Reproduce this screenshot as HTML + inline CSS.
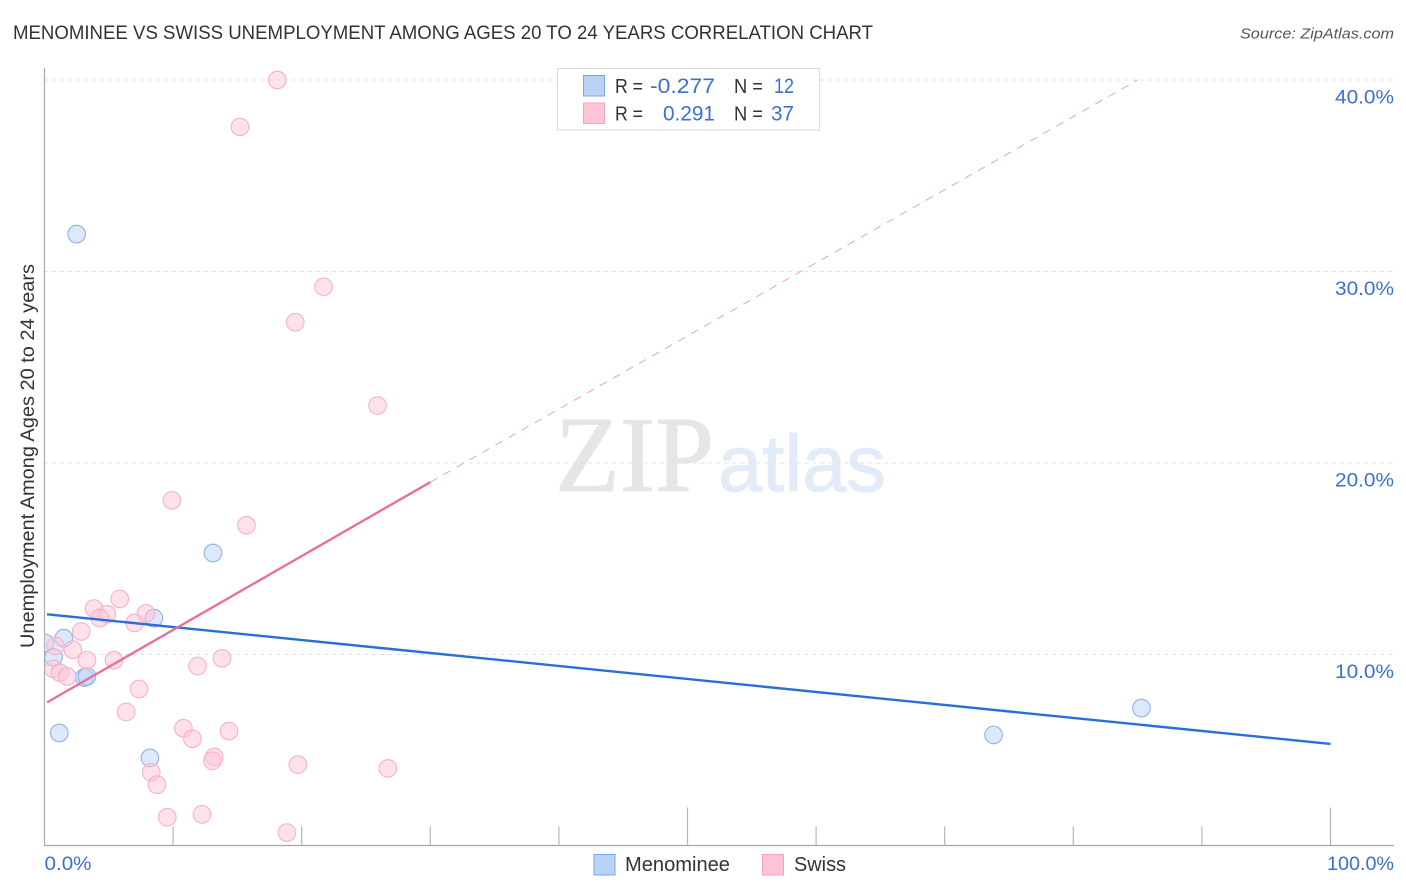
<!DOCTYPE html>
<html lang="en">
<head>
<meta charset="utf-8">
<title>Menominee vs Swiss Unemployment Correlation Chart</title>
<style>
html,body{margin:0;padding:0;background:#fff;}
svg{display:block;}
text{font-family:"Liberation Sans",sans-serif;}
</style>
</head>
<body>
<svg id="chart" width="1406" height="892" viewBox="0 0 1406 892" xmlns="http://www.w3.org/2000/svg">
<defs><clipPath id="plot-clip"><rect x="44.5" y="60" width="1350" height="786"/></clipPath></defs>
<text x="13" y="39" font-size="19.5" fill="#333" textLength="860" lengthAdjust="spacingAndGlyphs">MENOMINEE VS SWISS UNEMPLOYMENT AMONG AGES 20 TO 24 YEARS CORRELATION CHART</text>
<text x="1394" y="38.500" font-size="15" font-style="italic" fill="#555" text-anchor="end" textLength="154" lengthAdjust="spacingAndGlyphs">Source: ZipAtlas.com</text>
<text x="555" y="491" font-size="108" fill="#e6e6e6" stroke="#e6e6e6" stroke-width="1" style="font-family:'Liberation Serif',serif" textLength="159" lengthAdjust="spacingAndGlyphs">ZIP</text>
<text x="718" y="491" font-size="80" fill="#e2ecf9" stroke="#e2ecf9" stroke-width="1" textLength="168" lengthAdjust="spacingAndGlyphs">atlas</text>
<g id="grid"></g>
<g id="axes"></g>
<g id="marks" clip-path="url(#plot-clip)"></g>
<g id="trends"></g>
<g>
<rect x="557.500" y="68.500" width="262" height="61.500" fill="#fff" stroke="#dcdcdc" stroke-width="1"/>
<rect x="583.500" y="75.500" width="21" height="20.500" fill="#b9d3f7" stroke="#7ea6e0"/>
<rect x="583.500" y="103" width="21" height="20.500" fill="#fdc4d6" stroke="#f3a3bb"/>
<g font-size="20">
<text x="615" y="93" fill="#333" textLength="28" lengthAdjust="spacingAndGlyphs">R =</text>
<text x="715" y="93" fill="#3b6fd4" text-anchor="end" textLength="65" lengthAdjust="spacingAndGlyphs" style="font-size:21px">-0.277</text>
<text x="734" y="93" fill="#333" textLength="29" lengthAdjust="spacingAndGlyphs">N =</text>
<text x="794" y="93" fill="#3b6fd4" text-anchor="end" textLength="20" lengthAdjust="spacingAndGlyphs" style="font-size:21px">12</text>
<text x="615" y="120.500" fill="#333" textLength="28" lengthAdjust="spacingAndGlyphs">R =</text>
<text x="715" y="120.500" fill="#3b6fd4" text-anchor="end" textLength="52" lengthAdjust="spacingAndGlyphs" style="font-size:21px">0.291</text>
<text x="734" y="120.500" fill="#333" textLength="29" lengthAdjust="spacingAndGlyphs">N =</text>
<text x="794" y="120.500" fill="#3b6fd4" text-anchor="end" textLength="23" lengthAdjust="spacingAndGlyphs" style="font-size:21px">37</text>
</g>
</g>
<text transform="translate(34,456) rotate(-90)" font-size="19" fill="#333" text-anchor="middle" textLength="384" lengthAdjust="spacingAndGlyphs">Unemployment Among Ages 20 to 24 years</text>
<g>
<rect x="594" y="854.500" width="21" height="20.500" fill="#b9d3f7" stroke="#7ea6e0"/>
<text x="625" y="871" font-size="20" fill="#333" textLength="105" lengthAdjust="spacingAndGlyphs">Menominee</text>
<rect x="762.500" y="854.500" width="21" height="20.500" fill="#fdc4d6" stroke="#f3a3bb"/>
<text x="794" y="871" font-size="20" fill="#333" textLength="52" lengthAdjust="spacingAndGlyphs">Swiss</text>
</g>
</svg>
<script>
var yTickValues = [10, 20, 30, 40];
var yTickLabels = ["10.0%", "20.0%", "30.0%", "40.0%"];
var xTickValues = [10, 20, 30, 40, 50, 60, 70, 80, 90, 100];
var xMajorTicks = [50, 100];
var xEndValues = [0, 100];
var xEndLabels = ["0.0%", "100.0%"];
var menomineeX = [2.5, 0.05, 1.5, 0.7, 3.1, 3.3, 1.15, 8.2, 8.5, 13.1, 73.8, 85.3];
var menomineeY = [31.95, 10.6, 10.85, 9.85, 8.8, 8.85, 5.9, 4.6, 11.9, 15.3, 5.8, 7.2];
var swissX = [18.1, 15.2, 21.7, 19.5, 25.9, 9.9, 15.7, 5.85, 3.85, 4.85, 4.3, 7.9, 7.0, 2.85, 0.85, 2.2, 3.3, 5.4, 13.8, 11.9, 0.7, 1.2, 1.75, 7.35, 6.35, 10.8, 14.35, 11.5, 13.2, 13.05, 19.7, 26.7, 8.3, 8.75, 9.55, 12.25, 18.85];
var swissY = [40.0, 37.55, 29.2, 27.35, 23.0, 18.05, 16.75, 12.9, 12.4, 12.1, 11.9, 12.15, 11.65, 11.2, 10.45, 10.25, 9.7, 9.7, 9.8, 9.4, 9.25, 9.05, 8.85, 8.2, 7.0, 6.15, 6.0, 5.6, 4.65, 4.45, 4.25, 4.05, 3.85, 3.2, 1.5, 1.65, 0.7];
var menomineeTrendX = [0.2, 100];
var menomineeTrendY = [12.1, 5.33];
var swissTrendX = [0.2, 30];
var swissTrendY = [7.5, 19.0];
var swissDashX = [30, 85];
var swissDashY = [19.0, 40.0];

var NS = "http://www.w3.org/2000/svg";
function sx(v) { return 44.5 + v * 12.86; }
function sy(v) { return 846 - v * 19.15; }
function mk(parent, tag, attrs) {
  var el = document.createElementNS(NS, tag);
  for (var k in attrs) { el.setAttribute(k, attrs[k]); }
  parent.appendChild(el);
  return el;
}
var grid = document.getElementById("grid");
var axes = document.getElementById("axes");
var marks = document.getElementById("marks");
var trends = document.getElementById("trends");

yTickValues.forEach(function (v, i) {
  var g = mk(grid, "line", {x1: 44.5, x2: 1394, y1: sy(v), y2: sy(v), stroke: "#e0e0e0", "stroke-width": 1, "stroke-dasharray": "4 4"});
  
  
  var t = mk(axes, "text", {x: 1394, y: sy(v) + 23.5, "font-size": 19.5, fill: "#3b6fd4", "text-anchor": "end", textLength: 59, lengthAdjust: "spacingAndGlyphs"});
  t.textContent = yTickLabels[i];
  
  
});

var yAxis = mk(axes, "line", {x1: 44.5, x2: 44.5, y1: 68, y2: 846, stroke: "#a8a8a8", "stroke-width": 1.2});


var xAxis = mk(axes, "line", {x1: 44, x2: 1394, y1: 845.5, y2: 845.5, stroke: "#a8a8a8", "stroke-width": 1.2});



xTickValues.forEach(function (v) {
  var len = xMajorTicks.indexOf(v) >= 0 ? 38 : 19;
  var t = mk(axes, "line", {x1: sx(v), x2: sx(v), y1: 845.5 - len, y2: 845.5, stroke: "#b5b5b5", "stroke-width": 1.2});
  
  
});

xEndValues.forEach(function (v, i) {
  var t = mk(axes, "text", {x: i === 0 ? sx(v) : 1394, y: 870, "font-size": 19.5, fill: "#3b6fd4", "text-anchor": i === 0 ? "start" : "end", textLength: i === 0 ? 47 : 67, lengthAdjust: "spacingAndGlyphs"});
  t.textContent = xEndLabels[i];
  
  
});

menomineeX.forEach(function (v, i) {
  var c = mk(marks, "circle", {cx: sx(v), cy: sy(menomineeY[i]), r: 8.8, fill: "#b9d3f7", "fill-opacity": 0.5, stroke: "#8fb2e6", "stroke-width": 1.1});
  
  
});
swissX.forEach(function (v, i) {
  var c = mk(marks, "circle", {cx: sx(v), cy: sy(swissY[i]), r: 8.8, fill: "#fdc4d6", "fill-opacity": 0.5, stroke: "#f5b3c7", "stroke-width": 1.1});
  
  
});

var mt = mk(trends, "line", {x1: sx(menomineeTrendX[0]), y1: sy(menomineeTrendY[0]), x2: sx(menomineeTrendX[1]), y2: sy(menomineeTrendY[1]), stroke: "#2a6fd6", "stroke-width": 2.4});


var st = mk(trends, "line", {x1: sx(swissTrendX[0]), y1: sy(swissTrendY[0]), x2: sx(swissTrendX[1]), y2: sy(swissTrendY[1]), stroke: "#e8709c", "stroke-width": 2.4});


var sd = mk(trends, "line", {x1: sx(swissDashX[0]), y1: sy(swissDashY[0]), x2: sx(swissDashX[1]), y2: sy(swissDashY[1]), stroke: "#eba3bd", "stroke-width": 1, "stroke-dasharray": "8 7"});


</script>
</body>
</html>
